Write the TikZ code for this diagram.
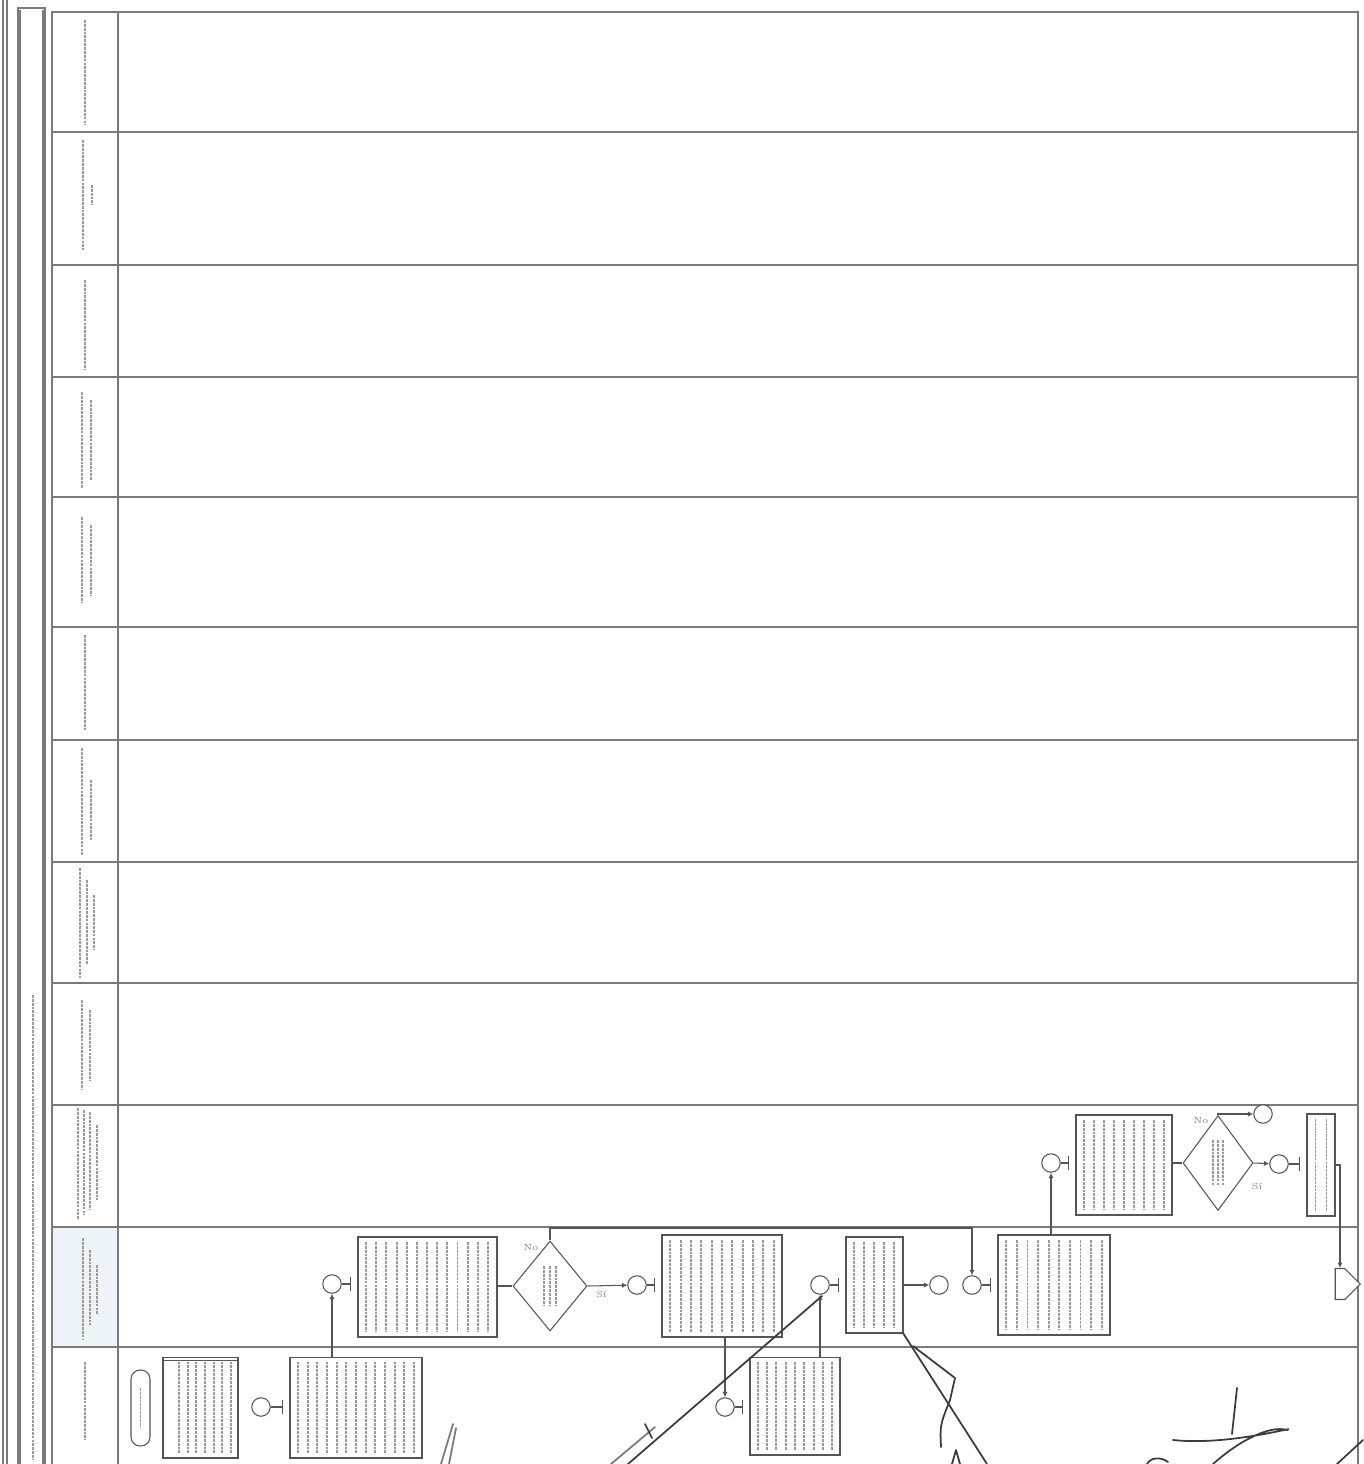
\documentclass[tikz,border=0pt]{standalone}
\usepackage{tikz}
\usepackage{xcolor}
\usetikzlibrary{arrows.meta,positioning,shapes.geometric,shapes.symbols}
\definecolor{flInk}{HTML}{555555}
\definecolor{flRule}{HTML}{7A7A7A}
\definecolor{flText}{HTML}{9A9A9A}
\definecolor{flTint}{HTML}{EEF3F8}
\definecolor{flPen}{HTML}{3C3C3C}
\newcommand{\txtcols}[5]{%
  \foreach \k in {1,...,#5}
    \draw[txtline] ({#1-#3/2+(\k-0.5)*#3/#5},{#2-#4/2+5}) -- ++(0,{#4-10});}
\tikzset{
  actbox/.style={draw=flInk,fill=white,line width=0.6pt,inner sep=0pt},
  decis/.style={diamond,draw=flInk,fill=white,line width=0.6pt,inner sep=0pt},
  conn/.style={circle,draw=flInk,fill=white,line width=0.6pt,minimum size=3.7mm,inner sep=0pt},
  termin/.style={draw=flInk,fill=white,rounded corners=1.8mm,line width=0.6pt,
                 minimum width=3.8mm,minimum height=15.2mm,inner sep=0pt},
  offpage/.style={signal,signal to=east,draw=flInk,fill=white,line width=0.6pt,
                  minimum width=5mm,minimum height=6.2mm,inner sep=0pt},
  arr/.style={-{Latex[length=3pt,width=3pt]},draw=flInk,line width=0.6pt},
  barlink/.style={-{Bar[width=2.8mm]},draw=flInk,line width=0.6pt,shorten >=1.3mm},
  txtline/.style={draw=flText,line width=1.1pt,dash pattern=on 1.6pt off 0.6pt},
  laneline/.style={draw=flRule,line width=0.7pt},
  lbl/.style={font=\tiny,text=flRule,inner sep=1pt},
  sig/.style={draw=flPen,line width=1pt,line cap=round,line join=round},
}
\begin{document}
\begin{tikzpicture}[x=0.02cm,y=-0.02cm]
  \useasboundingbox (0,0) rectangle (1363,1464);
  % frame and lanes
  \draw[laneline,line width=1.2pt] (3,0) -- (3,1464);
  \draw[laneline,line width=1.2pt] (7,0) -- (7,1464);
  \draw[laneline] (18,1464) |- (45,8) -- (45,1464);
  \draw[laneline] (20,10) -- (20,1464);
  \draw[laneline] (43,10) -- (43,1464);
  \draw[laneline] (52,1464) |- (1358,12) -- (1358,1464);
  \draw[laneline] (118,12) -- (118,1464);
  \fill[flTint] (53,1228) rectangle (117,1346);
  \foreach \ly in {132,265,377,497,627,740,862,983,1105,1227,1347}
    \draw[laneline] (52,\ly) -- (1358,\ly);
  % lane names and title (unreadable in the scan)
  \foreach \xx/\ya/\yb in {85/20/125, 83/140/250, 92/185/205, 85/280/370,
      82/392/488, 91/400/480, 82/517/603, 91/525/595, 85/635/730,
      82/748/855, 91/780/840, 80/868/978, 87/880/965, 94/895/950,
      82/1000/1090, 90/1010/1080, 78/1108/1220, 84/1110/1215, 90/1112/1210,
      97/1125/1200, 83/1238/1340, 90/1250/1325, 97/1265/1315, 85/1362/1440,
      33/995/1460}
    \draw[txtline] (\xx,\ya) -- (\xx,\yb);

  % lane of the start
  \node[termin] (start) at (140.5,1408) {};
  \node[actbox,minimum width=15mm,minimum height=20.2mm] (b1) at (200.5,1407.5) {};
  \draw[flInk] ([yshift=-0.8mm]b1.north west) -- ([yshift=-0.8mm]b1.north east);
  \node[conn] (c1) at (261,1407) {};
  \node[actbox,minimum width=26.4mm,minimum height=20.2mm] (b2) at (356,1407.5) {};
  \node[conn] (c4) at (725,1407) {};
  \node[actbox,minimum width=18mm,minimum height=19.6mm] (b5) at (795,1406) {};

  % middle lane
  \node[conn] (c2) at (332,1284) {};
  \node[actbox,minimum width=27.8mm,minimum height=20mm] (b3) at (427.5,1287) {};
  \node[decis,minimum width=14.8mm,minimum height=18mm] (d1) at (550,1286) {};
  \node[conn] (c3) at (637,1285) {};
  \node[actbox,minimum width=24mm,minimum height=20.4mm] (b4) at (722,1286) {};
  \node[conn] (c5) at (820,1285) {};
  \node[actbox,minimum width=11.4mm,minimum height=19.2mm] (b6) at (874.5,1285) {};
  \node[conn] (c6) at (939,1285) {};
  \node[conn] (c7) at (972,1285) {};
  \node[actbox,minimum width=22.4mm,minimum height=20mm] (b7) at (1054,1285) {};
  \node[offpage] (offpg) at (1340,1284) {};

  % upper lane
  \node[conn] (c8) at (1051,1163) {};
  \node[actbox,minimum width=19.2mm,minimum height=20mm] (b8) at (1124,1165) {};
  \node[decis,minimum width=14mm,minimum height=19mm] (d2) at (1218,1163) {};
  \node[conn] (c9) at (1263,1114) {};
  \node[conn] (c10) at (1279,1164) {};
  \node[actbox,minimum width=5.6mm,minimum height=20.4mm] (b9) at (1321,1165) {};

  % box texts (unreadable in the scan)
  \txtcols{205}{1407}{60}{101}{7}
  \txtcols{356}{1407}{126}{101}{13}
  \txtcols{427}{1287}{132}{100}{13}
  \txtcols{722}{1286}{114}{102}{11}
  \txtcols{795}{1406}{84}{98}{9}
  \txtcols{874}{1285}{50}{96}{5}
  \txtcols{1054}{1285}{106}{100}{10}
  \txtcols{1124}{1165}{90}{100}{9}
  \txtcols{1321}{1165}{22}{102}{2}
  \txtcols{550}{1286}{18}{50}{3}
  \txtcols{1218}{1163}{16}{56}{3}
  \txtcols{140.5}{1408}{6}{50}{1}

  % connectors
  \draw[barlink] (c1) -- (c1 -| b2.west);
  \draw[arr] (b2.north -| c2) -- (c2);
  \draw[barlink] (c2) -- (c2 -| b3.west);
  \draw[flInk,line width=0.6pt] (b3.east |- d1) -- (d1.west);
  \coordinate (d1up) at (550,1228);
  \coordinate (loopR) at (972,1228);
  \draw[arr] (d1.north) -- (d1up) -- (loopR) -- (c7);
  \draw[arr] (d1.east) -- node[lbl,below=2pt,pos=0.35]{Sí} (c3);
  \node[lbl] (d1no) at (531,1248) {No};
  \draw[barlink] (c3) -- (c3 -| b4.west);
  \draw[arr] (b4.south -| c4) -- (c4);
  \draw[barlink] (c4) -- (c4 -| b5.west);
  \draw[arr] (b5.north -| c5) -- (c5);
  \draw[barlink] (c5) -- (c5 -| b6.west);
  \draw[arr] (b6.east |- c6) -- (c6);
  \draw[barlink] (c7) -- (c7 -| b7.west);
  \draw[arr] (b7.north -| c8) -- (c8);
  \draw[barlink] (c8) -- (c8 -| b8.west);
  \draw[flInk,line width=0.6pt] (b8.east |- d2) -- (d2.west);
  \draw[arr] (d2.north) |- (c9);
  \node[lbl] (d2no) at (1201,1121) {No};
  \draw[arr] (d2.east) -- (c10);
  \node[lbl] (d2si) at (1257,1186) {Sí};
  \draw[barlink] (c10) -- (c10 -| b9.west);
  \draw[arr] (b9.east) -| (offpg.north);

  % handwritten signatures over the scan
  \draw[sig,draw=flRule] (453,1424) -- (441,1464);
  \draw[sig,draw=flRule] (456,1428) -- (449,1464);
  \draw[sig] (628,1464) -- (822,1296);
  \draw[sig,draw=flRule] (611,1464) -- (655,1427);
  \draw[sig] (645,1424) -- (652,1438);
  \draw[sig] (903,1333) -- (987,1464);
  \draw[sig] (913,1346) -- (955,1378) -- (950,1400) .. controls (940,1425) .. (941,1447);
  \draw[sig] (952,1464) -- (956,1450) -- (960,1464);
  \draw[sig] (1237,1388) -- (1232,1434);
  \draw[sig] (1173,1440) .. controls (1230,1446) and (1300,1425) .. (1287,1430)
             .. controls (1270,1425) and (1240,1440) .. (1213,1464);
  \draw[sig] (1147,1464) .. controls (1150,1458) and (1160,1456) .. (1168,1462);
  \draw[sig] (1363,1440) -- (1337,1464);
\end{tikzpicture}
\end{document}
